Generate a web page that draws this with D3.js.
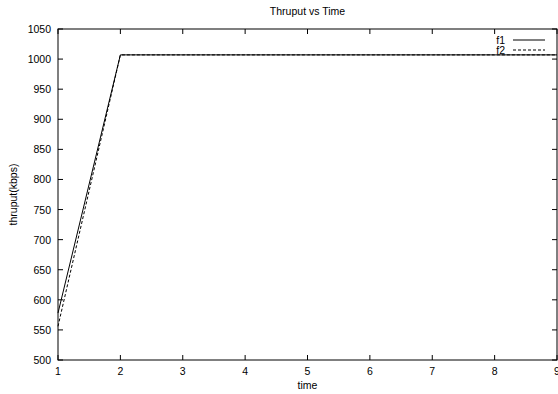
<!DOCTYPE html>
<html><head><meta charset="utf-8">
<script src="https://cdn.jsdelivr.net/npm/d3@7"></script>
<style>body{margin:0;background:#fff;} text{font-family:"Liberation Sans",Arial,sans-serif;fill:#000;}</style>
</head><body><svg id="c" width="558" height="394"></svg>
<script>
const times = [1,2,3,4,5,6,7,8,9];
const f1 = [578,1007,1007,1007,1007,1007,1007,1007,1007];
const f2 = [556,1007,1007,1007,1007,1007,1007,1007,1007];
const xTicks = [1,2,3,4,5,6,7,8,9];
const yTicks = [500,550,600,650,700,750,800,850,900,950,1000,1050];
const seriesNames = ["f1","f2"];

const svg = d3.select("#c");
const L=58,R=557,T=29,B=360;
const x = d3.scaleLinear().domain([1,9]).range([L,R]);
const y = d3.scaleLinear().domain([500,1050]).range([B,T]);

const g = svg.append("g");
// frame
g.append("rect").attr("x",L).attr("y",T).attr("width",R-L).attr("height",B-T)
 .attr("fill","none").attr("stroke","#000").attr("stroke-width",1);
// ticks
xTicks.forEach(t=>{
  g.append("line").attr("x1",x(t)).attr("x2",x(t)).attr("y1",B).attr("y2",B-5).attr("stroke","#000");
  g.append("line").attr("x1",x(t)).attr("x2",x(t)).attr("y1",T).attr("y2",T+5).attr("stroke","#000");
  g.append("text").attr("x",x(t)).attr("y",B+15).attr("text-anchor","middle").attr("font-size",10.5).text(t);
});
yTicks.forEach(t=>{
  g.append("line").attr("x1",L).attr("x2",L+5).attr("y1",y(t)).attr("y2",y(t)).attr("stroke","#000");
  g.append("line").attr("x1",R).attr("x2",R-5).attr("y1",y(t)).attr("y2",y(t)).attr("stroke","#000");
  g.append("text").attr("x",L-7).attr("y",y(t)+4).attr("text-anchor","end").attr("font-size",10.5).text(t);
});
const line = d3.line().x((d,i)=>x(times[i])).y(d=>y(d));
g.append("path").datum(f1).attr("d",line).attr("fill","none").attr("stroke","#000").attr("stroke-width",1);
g.append("path").datum(f2).attr("d",line).attr("fill","none").attr("stroke","#000").attr("stroke-width",1).attr("stroke-dasharray","3,2");
// legend
seriesNames.forEach((n,i)=>{
  const ly = 40 + i*10;
  g.append("text").attr("x",505).attr("y",ly+4).attr("text-anchor","end").attr("font-size",10.5).text(n);
  g.append("line").attr("x1",513).attr("x2",545).attr("y1",ly).attr("y2",ly).attr("stroke","#000")
   .attr("stroke-dasharray", i===1 ? "3,2" : null);
});
svg.append("text").attr("x",(L+R)/2).attr("y",15).attr("text-anchor","middle").attr("font-size",10.5).text("Thruput vs Time");
svg.append("text").attr("x",(L+R)/2).attr("y",389).attr("text-anchor","middle").attr("font-size",10.5).text("time");
svg.append("text").attr("transform",`translate(17,${(T+B)/2}) rotate(-90)`).attr("text-anchor","middle").attr("font-size",10.5).text("thruput(kbps)");
</script></body></html>
